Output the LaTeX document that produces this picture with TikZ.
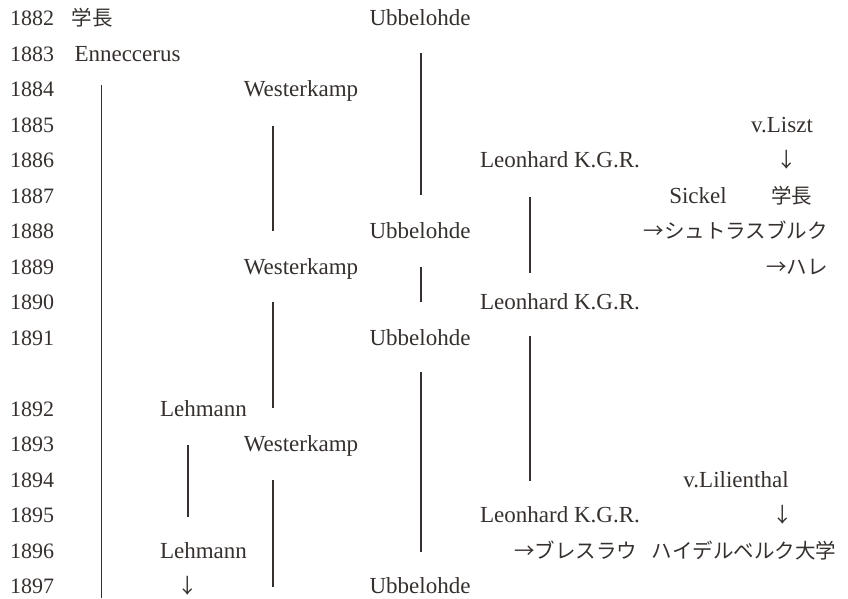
\documentclass[tikz,border=0pt]{standalone}
\usepackage{fontspec}
\setmainfont{Liberation Serif}
\newfontfamily\jp{Noto Sans CJK JP}
\definecolor{ink}{HTML}{35302D}
\begin{document}
\begin{tikzpicture}[x=1pt,y=-1pt,
  lbl/.style={anchor=base, inner sep=0pt, text=ink, font=\fontsize{23}{27}\selectfont},
  jlbl/.style={anchor=base, inner sep=0pt, text=ink, font=\fontsize{20.5}{24}\selectfont\jp},
  yr/.style={anchor=base west, inner sep=0pt, text=ink, font=\fontsize{22}{26}\selectfont},
  tenure/.style={draw=ink, line width=1.3pt}]
\useasboundingbox (0,0) rectangle (848,598);

% baseline of each year row
\def\rowb#1{25.5+35.5*#1}

% year column
\foreach \yy/\r in {1882/0,1883/1,1884/2,1885/3,1886/4,1887/5,1888/6,1889/7,1890/8,1891/9,
                    1892/11,1893/12,1894/13,1895/14,1896/15,1897/16}
  \node[yr] (y\yy) at (10,{\rowb{\r}}) {\yy};

% names and notes
\node[jlbl] (rector1)  at (92,{\rowb{0}})    {学長};
\node[lbl]  (ubb1)     at (420,{\rowb{0}})   {Ubbelohde};
\node[lbl]  (enn)      at (127.5,{\rowb{1}}) {Enneccerus};
\node[lbl]  (west1)    at (301,{\rowb{2}})   {Westerkamp};
\node[lbl]  (liszt)    at (782,{\rowb{3}})   {v.Liszt};
\node[lbl]  (leon1)    at (560,{\rowb{4}})   {Leonhard K.G.R.};
\node[jlbl] (lisztarr) at (787,{\rowb{4}})   {↓};
\node[lbl]  (sickel)   at (698,{\rowb{5}})   {Sickel};
\node[jlbl] (rector2)  at (791.5,{\rowb{5}}) {学長};
\node[lbl]  (ubb2)     at (420,{\rowb{6}})   {Ubbelohde};
\node[jlbl,anchor=base east] (strass) at (828,{\rowb{6}}) {→シュトラスブルク};
\node[lbl]  (west2)    at (301,{\rowb{7}})   {Westerkamp};
\node[jlbl,anchor=base east] (halle)  at (828,{\rowb{7}}) {→ハレ};
\node[lbl]  (leon2)    at (560,{\rowb{8}})   {Leonhard K.G.R.};
\node[lbl]  (ubb3)     at (420,{\rowb{9}})   {Ubbelohde};
\node[lbl]  (lehm1)    at (203.5,{\rowb{11}}) {Lehmann};
\node[lbl]  (west3)    at (301,{\rowb{12}})  {Westerkamp};
\node[lbl]  (lilien)   at (736,{\rowb{13}})  {v.Lilienthal};
\node[lbl]  (leon3)    at (560,{\rowb{14}})  {Leonhard K.G.R.};
\node[jlbl] (lilarr)   at (783,{\rowb{14}})  {↓};
\node[lbl]  (lehm2)    at (203.5,{\rowb{15}}) {Lehmann};
\node[jlbl] (breslau)  at (575.5,{\rowb{15}}) {→ブレスラウ};
\node[jlbl] (heidel)   at (744,{\rowb{15}})  {ハイデルベルク大学};
\node[jlbl] (lehmarr)  at (188,{\rowb{16}})  {↓};
\node[lbl]  (ubb4)     at (420,{\rowb{16}})  {Ubbelohde};

% tenure lines
\draw[tenure] (101.7,85) -- (101.7,598);
\draw[tenure] (421,52.5) -- (421,195);
\draw[tenure] (421,267)  -- (421,302);
\draw[tenure] (421,372)  -- (421,552);
\draw[tenure] (273,126)  -- (273,231);
\draw[tenure] (273,302)  -- (273,408);
\draw[tenure] (273,480)  -- (273,587);
\draw[tenure] (530,197)  -- (530,273);
\draw[tenure] (530,336)  -- (530,481);
\draw[tenure] (188,445)  -- (188,517);
\end{tikzpicture}
\end{document}
